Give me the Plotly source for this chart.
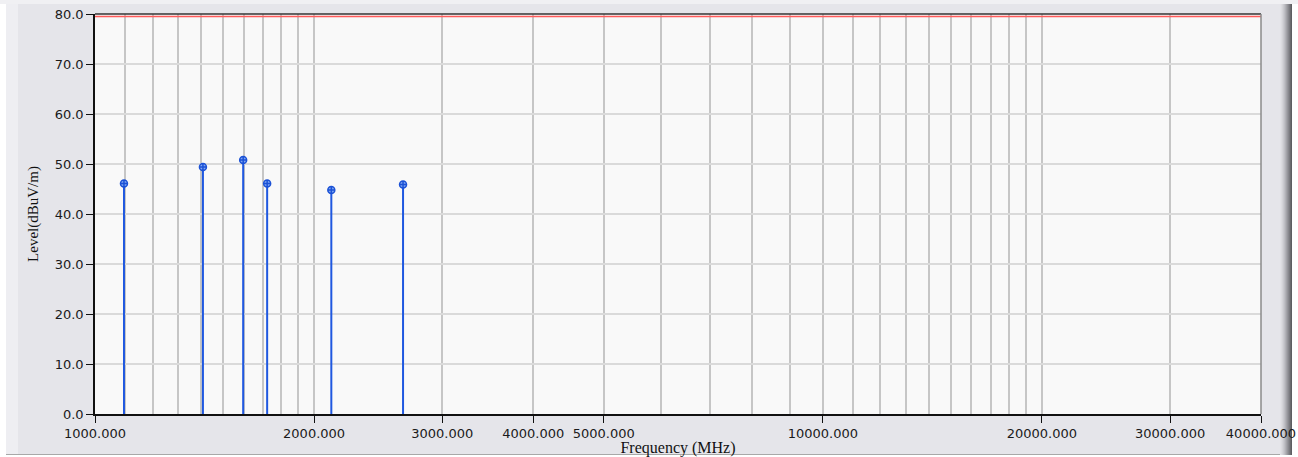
import math
import plotly.graph_objects as go

# Measured emission peaks (frequency in MHz, level in dBuV/m)
freq_mhz = [1096, 1407, 1598, 1724, 2112, 2650]
level_dbuv = [46.1, 49.4, 50.8, 46.1, 44.8, 45.9]

# Limit line
limit_freq = [1000, 40000]
limit_level = [79.5, 79.5]

# Axis ticks
x_tickvals = [1000, 2000, 3000, 4000, 5000, 10000, 20000, 30000, 40000]
x_ticktext = [f"{v:.3f}" for v in x_tickvals]
x_gridvals = ([1100, 1200, 1300, 1400, 1500, 1600, 1700, 1800, 1900]
              + [6000, 7000, 8000, 9000]
              + [11000, 12000, 13000, 14000, 15000, 16000, 17000, 18000, 19000])
y_tickvals = [0, 10, 20, 30, 40, 50, 60, 70, 80]
y_ticktext = [f"{v:.1f}" for v in y_tickvals]

W, H = 1298, 457
ML, MR, MT, MB = 95, 37, 14, 43

fig = go.Figure()

# Limit line
fig.add_trace(go.Scatter(
    x=limit_freq, y=limit_level, mode="lines",
    line=dict(color="#ff5a5a", width=1.5),
    hoverinfo="skip", showlegend=False,
))

# Peaks drawn as stems down to 0 dB
fig.add_trace(go.Scatter(
    x=freq_mhz, y=level_dbuv, mode="markers",
    marker=dict(symbol="circle-cross", size=7, color="#7fa6f2",
                line=dict(color="#1c52d6", width=1.5)),
    error_y=dict(type="data", symmetric=False,
                 array=[0] * len(level_dbuv), arrayminus=level_dbuv,
                 color="#1f58e0", thickness=2, width=0),
    showlegend=False,
))

tick_font = dict(family="DejaVu Sans", size=13, color="#1a1a1a")

fig.update_xaxes(
    type="log",
    range=[math.log10(1000), math.log10(40000)],
    tickmode="array", tickvals=x_tickvals, ticktext=x_ticktext,
    ticks="outside", ticklen=7, tickwidth=1, tickcolor="#111111",
    tickfont=tick_font,
    showgrid=True, gridcolor="#c6c6c6", gridwidth=2,
    minor=dict(tickmode="array", tickvals=x_gridvals, ticks="",
               showgrid=True, gridcolor="#c6c6c6", gridwidth=2),
    showline=True, linecolor="#111111", linewidth=1.5,
    zeroline=False, automargin=False,
    title=dict(text="Frequency (MHz)",
               font=dict(family="Liberation Serif", size=16, color="#111111"),
               standoff=0),
)
fig.update_yaxes(
    range=[0, 80],
    tickmode="array", tickvals=y_tickvals, ticktext=y_ticktext,
    ticks="outside", ticklen=7, tickwidth=1, tickcolor="#111111",
    tickfont=tick_font,
    showgrid=True, gridcolor="#dadada", gridwidth=1.5,
    showline=True, linecolor="#111111", linewidth=1.5,
    zeroline=False, automargin=False,
    title=dict(text="Level(dBuV/m)",
               font=dict(family="Liberation Serif", size=15, color="#111111"),
               standoff=12),
)

pw = W - ML - MR
ph = H - MT - MB


def px_x(p):
    return (p - ML) / pw


def px_y(p):
    return (H - MB - p) / ph


shapes = [
    # plot frame: dark top edge, grey right edge
    dict(type="line", xref="paper", yref="paper", x0=0, x1=1, y0=1, y1=1,
         line=dict(color="#333333", width=1.5)),
    dict(type="line", xref="paper", yref="paper", x0=1, x1=1, y0=0, y1=1,
         line=dict(color="#8a8a8a", width=1.5)),
    # window frame: white outer strips and shaded right border
    dict(type="rect", xref="paper", yref="paper", layer="below",
         x0=px_x(0), x1=px_x(6), y0=px_y(H), y1=px_y(0),
         fillcolor="#ffffff", line=dict(width=0)),
    dict(type="rect", xref="paper", yref="paper", layer="below",
         x0=px_x(6), x1=px_x(18), y0=px_y(455), y1=px_y(0),
         fillcolor="#eeeef2", line=dict(width=0)),
    dict(type="rect", xref="paper", yref="paper", layer="below",
         x0=px_x(0), x1=px_x(W), y0=px_y(H), y1=px_y(455),
         fillcolor="#ffffff", line=dict(width=0)),
    dict(type="line", xref="paper", yref="paper", layer="below",
         x0=px_x(6), x1=px_x(1292), y0=px_y(454.5), y1=px_y(454.5),
         line=dict(color="#a8a8a8", width=1)),
]
grad = ["#e2e2e6", "#dcdce0", "#d4d4d8", "#cacacf", "#bfbfc4", "#b2b2b7",
        "#a4a4a9", "#96969b", "#88888d", "#7a7a7f", "#6c6c70", "#5e5e62"]
for i, c in enumerate(grad):
    shapes.append(dict(type="rect", xref="paper", yref="paper", layer="below",
                       x0=px_x(1280 + i), x1=px_x(1281 + i), y0=px_y(455), y1=px_y(4),
                       fillcolor=c, line=dict(width=0)))
shapes.append(dict(type="rect", xref="paper", yref="paper", layer="below",
                   x0=px_x(1292), x1=px_x(W), y0=px_y(H), y1=px_y(0),
                   fillcolor="#ffffff", line=dict(width=0)))
shapes.append(dict(type="rect", xref="paper", yref="paper", layer="below",
                   x0=px_x(0), x1=px_x(W), y0=px_y(4), y1=px_y(0),
                   fillcolor="#f0f0f3", line=dict(width=0)))

fig.update_layout(
    width=W, height=H,
    margin=dict(l=ML, r=MR, t=MT, b=MB, autoexpand=False),
    paper_bgcolor="#e5e5ea",
    plot_bgcolor="#f9f9f9",
    shapes=shapes,
    showlegend=False,
)

fig.write_html("out.html")
